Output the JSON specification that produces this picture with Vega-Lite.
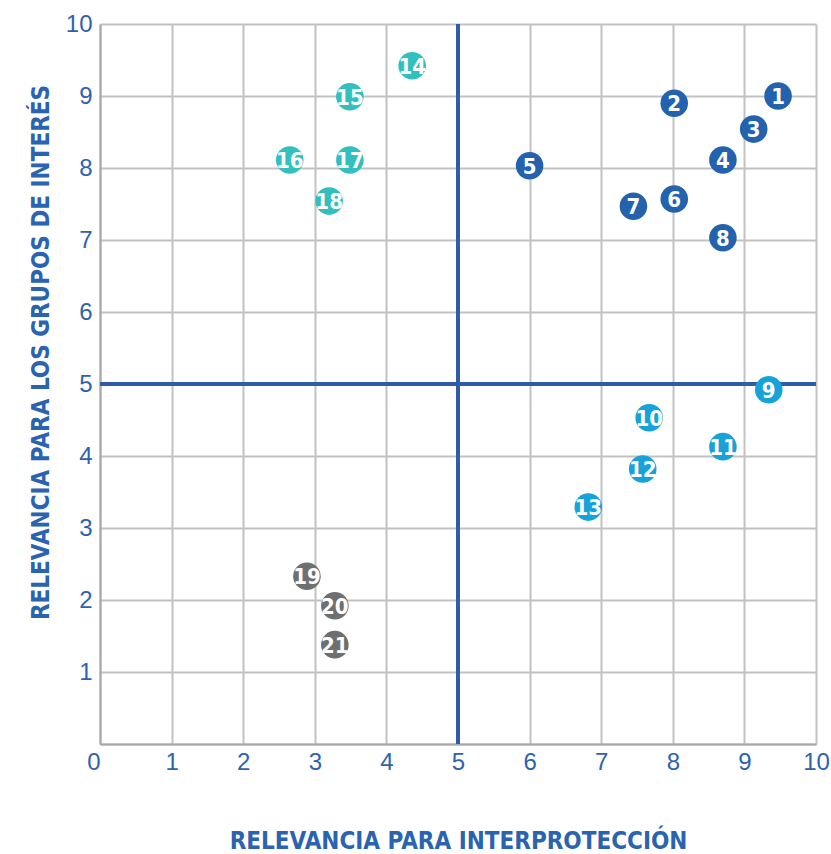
{
  "$schema": "https://vega.github.io/schema/vega-lite/v6.json",
  "width": 716,
  "height": 720,
  "autosize": {"type": "none"},
  "padding": {"left": 100, "top": 24, "right": 15, "bottom": 110},
  "background": "white",
  "config": {"view": {"stroke": null}},
  "data": {
    "values": [
      {"id": "1", "x": 9.47, "y": 9.0, "group": "A"},
      {"id": "2", "x": 8.02, "y": 8.9, "group": "A"},
      {"id": "3", "x": 9.13, "y": 8.54, "group": "A"},
      {"id": "4", "x": 8.7, "y": 8.11, "group": "A"},
      {"id": "5", "x": 6.0, "y": 8.03, "group": "A"},
      {"id": "6", "x": 8.02, "y": 7.57, "group": "A"},
      {"id": "7", "x": 7.45, "y": 7.47, "group": "A"},
      {"id": "8", "x": 8.7, "y": 7.03, "group": "A"},
      {"id": "9", "x": 9.34, "y": 4.92, "group": "B"},
      {"id": "10", "x": 7.67, "y": 4.53, "group": "B"},
      {"id": "11", "x": 8.7, "y": 4.13, "group": "B"},
      {"id": "12", "x": 7.58, "y": 3.82, "group": "B"},
      {"id": "13", "x": 6.82, "y": 3.29, "group": "B"},
      {"id": "14", "x": 4.36, "y": 9.42, "group": "C"},
      {"id": "15", "x": 3.49, "y": 8.99, "group": "C"},
      {"id": "16", "x": 2.65, "y": 8.11, "group": "C"},
      {"id": "17", "x": 3.49, "y": 8.11, "group": "C"},
      {"id": "18", "x": 3.2, "y": 7.54, "group": "C"},
      {"id": "19", "x": 2.89, "y": 2.33, "group": "D"},
      {"id": "20", "x": 3.28, "y": 1.92, "group": "D"},
      {"id": "21", "x": 3.28, "y": 1.38, "group": "D"}
    ]
  },
  "layer": [
    {
      "mark": {"type": "point", "opacity": 0},
      "encoding": {
        "x": {
          "field": "x", "type": "quantitative",
          "scale": {"domain": [0, 10], "nice": false, "zero": false},
          "axis": {
            "values": [0, 1, 2, 3, 4, 5, 6, 7, 8, 9, 10],
            "format": "d",
            "grid": true, "gridColor": "#c2c2c2", "gridWidth": 2,
            "domainColor": "#a8a8a8", "domainWidth": 2,
            "ticks": false,
            "labelColor": "#2f62ae", "labelFont": "Liberation Sans, Arial, sans-serif", "labelFontSize": 24,
            "labelPadding": 6,
            "labelAlign": {"condition": {"test": "datum.value == 0", "value": "right"}, "value": "center"},
            "title": "RELEVANCIA PARA INTERPROTECCIÓN",
            "titleColor": "#2a63b0", "titleFont": "DejaVu Sans Condensed, Roboto, sans-serif", "titleFontWeight": "bold", "titleFontSize": 24,
            "titleBaseline": "alphabetic", "titleY": 104, "titleX": 358, "titleAnchor": "middle"
          }
        },
        "y": {
          "field": "y", "type": "quantitative",
          "scale": {"domain": [0, 10], "nice": false, "zero": false},
          "axis": {
            "values": [0, 1, 2, 3, 4, 5, 6, 7, 8, 9, 10],
            "format": "d",
            "labelExpr": "datum.value == 0 ? '' : datum.label",
            "grid": true, "gridColor": "#c2c2c2", "gridWidth": 2,
            "domainColor": "#a8a8a8", "domainWidth": 2,
            "ticks": false,
            "labelColor": "#2f62ae", "labelFont": "Liberation Sans, Arial, sans-serif", "labelFontSize": 24,
            "labelPadding": 8,
            "title": "RELEVANCIA PARA LOS GRUPOS DE INTERÉS",
            "titleColor": "#2a63b0", "titleFont": "DejaVu Sans Condensed, Roboto, sans-serif", "titleFontWeight": "bold", "titleFontSize": 24,
            "titleBaseline": "alphabetic", "titleX": -52, "titleY": 328, "titleAngle": -90, "titleAnchor": "middle"
          }
        }
      }
    },
    {
      "mark": {"type": "rule", "color": "#2f5caa", "strokeWidth": 3},
      "encoding": {"x": {"datum": 5, "type": "quantitative"}}
    },
    {
      "mark": {"type": "rule", "color": "#2f5caa", "strokeWidth": 3},
      "encoding": {"y": {"datum": 5, "type": "quantitative"}}
    },
    {
      "mark": {"type": "circle", "size": 760, "opacity": 1},
      "encoding": {
        "x": {"field": "x", "type": "quantitative"},
        "y": {"field": "y", "type": "quantitative"},
        "color": {
          "field": "group", "type": "nominal",
          "scale": {"domain": ["A", "B", "C", "D"], "range": ["#2462ae", "#17a2da", "#34bfbf", "#6e6f71"]},
          "legend": null
        }
      }
    },
    {
      "mark": {"type": "text", "color": "white", "font": "DejaVu Sans Condensed, Roboto, sans-serif", "fontWeight": "bold", "fontSize": 22, "baseline": "middle", "align": "center", "dy": 1},
      "encoding": {
        "x": {"field": "x", "type": "quantitative"},
        "y": {"field": "y", "type": "quantitative"},
        "text": {"field": "id"}
      }
    }
  ]
}
